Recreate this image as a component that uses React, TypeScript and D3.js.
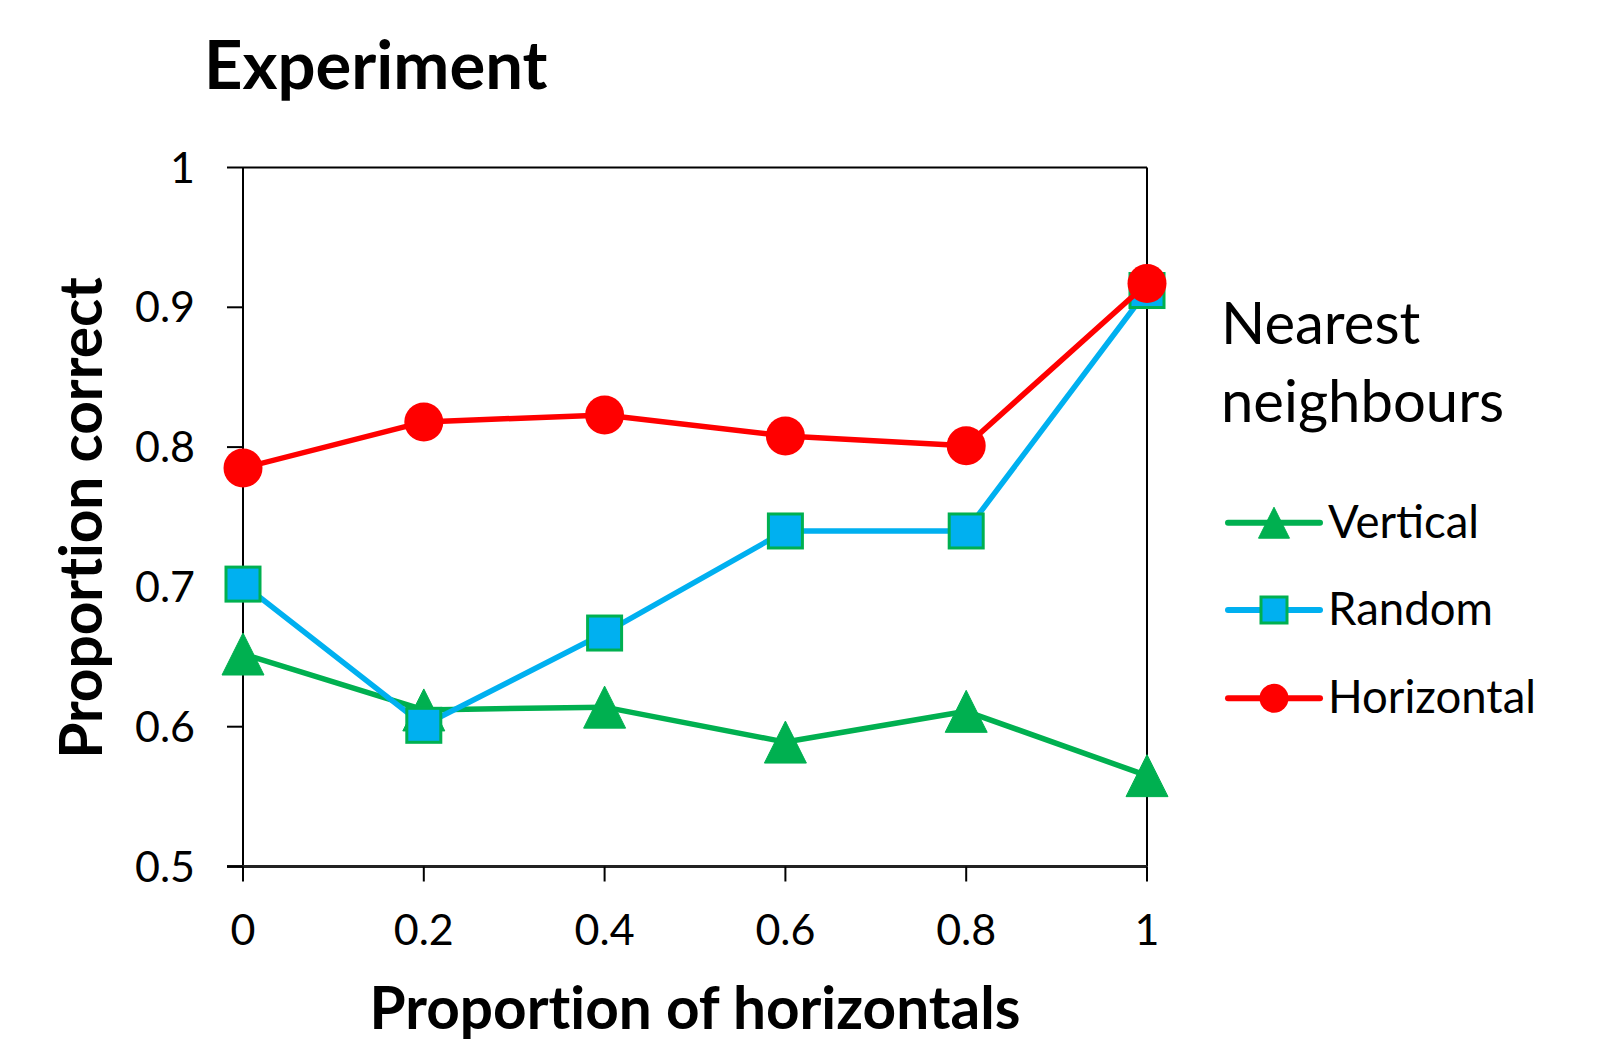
import React from 'react';
import * as d3 from 'd3';

const xValues = [0, 0.2, 0.4, 0.6, 0.8, 1];
const verticalValues = [0.652, 0.612, 0.614, 0.589, 0.611, 0.565];
const randomValues = [0.702, 0.601, 0.667, 0.74, 0.74, 0.912];
const horizontalValues = [0.785, 0.818, 0.823, 0.808, 0.801, 0.917];
const xTicks = [0, 0.2, 0.4, 0.6, 0.8, 1];
const yTicks = [0.5, 0.6, 0.7, 0.8, 0.9, 1];
const legendTitle = ['Nearest', 'neighbours'];

const GREEN = '#00B050';
const BLUE = '#00B0F0';
const RED = '#FF0000';
const FONT = 'Lato, "Open Sans", sans-serif';

const series = [
  { name: 'Vertical', values: verticalValues, color: GREEN, marker: 'triangle' },
  { name: 'Random', values: randomValues, color: BLUE, marker: 'square' },
  { name: 'Horizontal', values: horizontalValues, color: RED, marker: 'circle' },
];

function Marker({ type, cx, cy, size, color }: { type: string; cx: number; cy: number; size: number; color: string }) {
  if (type === 'circle') {
    return <circle cx={cx} cy={cy} r={size / 2} fill={color} />;
  }
  if (type === 'square') {
    const s = size - 3;
    return <rect x={cx - s / 2} y={cy - s / 2} width={s} height={s} fill={BLUE} stroke={GREEN} strokeWidth={3} />;
  }
  const w = size;
  const h = size;
  const p = `M${cx},${cy - h / 2}L${cx + w / 2},${cy + h / 2}L${cx - w / 2},${cy + h / 2}Z`;
  return <path d={p} fill={GREEN} stroke={GREEN} strokeWidth={1} strokeLinejoin="round" />;
}

export default function App() {
  const W = 1614;
  const H = 1040;
  const left = 243;
  const right = 1147;
  const top = 167.5;
  const bottom = 866.5;
  const x = d3.scaleLinear().domain([0, 1]).range([left, right]);
  const y = d3.scaleLinear().domain([0.5, 1]).range([bottom, top]);
  const line = d3
    .line<number>()
    .x((_, i) => x(xValues[i]))
    .y((d) => y(d));

  const legendX = 1228;
  const legendLineW = 92;
  const legendRowY = [522.7, 610, 698.3];
  const noLig = { fontVariantLigatures: 'none', fontFeatureSettings: '"liga" 0, "clig" 0' } as React.CSSProperties;

  return (
    <svg
      width={W}
      height={H}
      viewBox={`0 0 ${W} ${H}`}
      style={{ position: 'absolute', left: 0, top: 0, display: 'block', background: '#fff' }}
      fontFamily={FONT}
    >
      <rect x={0} y={0} width={W} height={H} fill="#fff" />
      {/* Title */}
      <text x={204} y={89} fontSize={67} fontWeight="bold" fill="#000" style={noLig}>
        Experiment
      </text>

      {/* Frame */}
      <line x1={left} y1={top} x2={right} y2={top} stroke="#000" strokeWidth={2} />
      <line x1={right} y1={top} x2={right} y2={bottom} stroke="#000" strokeWidth={2} />
      <line x1={left} y1={top} x2={left} y2={bottom} stroke="#000" strokeWidth={2} />
      <line x1={left - 16} y1={bottom} x2={right} y2={bottom} stroke="#222" strokeWidth={3} />

      {/* Y ticks */}
      {yTicks.map((t) => (
        <g key={`y${t}`}>
          <line x1={left - 16} y1={y(t)} x2={left} y2={y(t)} stroke="#000" strokeWidth={2} />
          <text x={195} y={y(t) + 15} fontSize={43} textAnchor="end" fill="#000">
            {String(t)}
          </text>
        </g>
      ))}

      {/* X ticks */}
      {xTicks.map((t) => (
        <g key={`x${t}`}>
          <line x1={x(t)} y1={bottom} x2={x(t)} y2={bottom + 15} stroke="#000" strokeWidth={2} />
          <text x={x(t)} y={945} fontSize={43} textAnchor="middle" fill="#000">
            {String(t)}
          </text>
        </g>
      ))}

      {/* Axis titles */}
      <text x={695} y={1029} fontSize={58.5} fontWeight="bold" textAnchor="middle" fill="#000" style={noLig}>
        Proportion of horizontals
      </text>
      <text
        transform={`translate(102,518) rotate(-90)`}
        fontSize={58.5}
        fontWeight="bold"
        textAnchor="middle"
        fill="#000"
        style={noLig}
      >
        Proportion correct
      </text>

      {/* Series */}
      {series.map((s) => (
        <g key={s.name}>
          <path d={line(s.values) || ''} fill="none" stroke={s.color} strokeWidth={5.5} strokeLinejoin="round" />
          {s.values.map((v, i) => (
            <Marker
              key={i}
              type={s.marker}
              cx={x(xValues[i])}
              cy={y(v)}
              size={s.marker === 'circle' ? 39 : s.marker === 'square' ? 37 : 42}
              color={s.color}
            />
          ))}
        </g>
      ))}

      {/* Legend */}
      <text x={1221} y={344} fontSize={58} fill="#000">
        {legendTitle[0]}
      </text>
      <text x={1221} y={421.7} fontSize={58} fill="#000">
        {legendTitle[1]}
      </text>
      {series.map((s, i) => (
        <g key={`leg${s.name}`}>
          <line
            x1={legendX}
            y1={legendRowY[i]}
            x2={legendX + legendLineW}
            y2={legendRowY[i]}
            stroke={s.color}
            strokeWidth={6}
            strokeLinecap="round"
          />
          <Marker type={s.marker} cx={legendX + legendLineW / 2} cy={legendRowY[i]} size={s.marker === 'triangle' ? 31 : 29} color={s.color} />
          <text x={1328} y={legendRowY[i] + 15} fontSize={45.5} fill="#000">
            {s.name}
          </text>
        </g>
      ))}
    </svg>
  );
}
